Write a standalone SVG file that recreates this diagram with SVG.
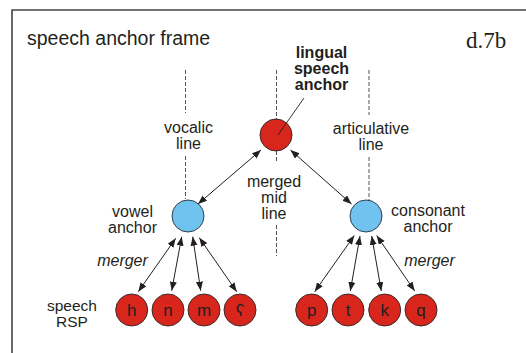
<svg xmlns="http://www.w3.org/2000/svg" width="526" height="353" viewBox="0 0 526 353">
<defs>
<style>
text{font-family:"Liberation Sans",Arial,sans-serif;fill:#231f20;}
.lbl{font-size:16px;text-anchor:middle;}
.it{font-style:italic;}
.bold{font-weight:bold;}
.red{fill:#d8261d;stroke:#3a2a2a;stroke-width:1;}
.blue{fill:#6fc3ee;stroke:#2f3f4f;stroke-width:1;}
.dash{stroke:#555;stroke-width:1;stroke-dasharray:4 2;fill:none;}
.arr{stroke:#231f20;stroke-width:1;fill:none;marker-start:url(#ah);marker-end:url(#ah);}
.let{font-size:17px;text-anchor:middle;}
</style>
<marker id="ah" markerUnits="userSpaceOnUse" markerWidth="10" markerHeight="8" refX="9" refY="3.5" orient="auto-start-reverse">
<path d="M0,0 L9,3.5 L0,7 Z" fill="#231f20"/>
</marker>
</defs>
<rect width="526" height="353" fill="#fff"/>
<g id="frame">
<path d="M12,353 V10 H526" fill="none" stroke="#444" stroke-width="1.6"/>
<text x="27" y="45" style="font-size:19.5px">speech anchor frame</text>
<text x="466" y="48" style="font-family:'Liberation Serif','Times New Roman',serif;font-size:23px">d.7b</text>
</g>
<g id="guides">
<line class="dash" x1="185.5" y1="70" x2="185.5" y2="113"/>
<line class="dash" x1="185.5" y1="156" x2="185.5" y2="199"/>
<line class="dash" x1="276.5" y1="70" x2="276.5" y2="119"/>
<line class="dash" x1="276.5" y1="151" x2="276.5" y2="162"/>
<line class="dash" x1="276.5" y1="225" x2="276.5" y2="256"/>
<line class="dash" x1="369" y1="70" x2="369" y2="115"/>
<line class="dash" x1="369" y1="157" x2="369" y2="201"/>
<text class="lbl" x="188.5" y="133">vocalic</text>
<text class="lbl" x="188.5" y="149">line</text>
<text class="lbl" x="371" y="134">articulative</text>
<text class="lbl" x="371" y="150">line</text>
<text class="lbl" x="274" y="187">merged</text>
<text class="lbl" x="274" y="203">mid</text>
<text class="lbl" x="274" y="219">line</text>
</g>
<g id="connectors">
<line class="arr" x1="198" y1="204" x2="261" y2="150"/>
<line class="arr" x1="351.5" y1="204" x2="290.5" y2="150"/>
<line class="arr" x1="138.3" y1="291.7" x2="175.7" y2="238.3"/>
<line class="arr" x1="171.7" y1="290.7" x2="181.7" y2="236.7"/>
<line class="arr" x1="200.7" y1="290.7" x2="192.7" y2="236.7"/>
<line class="arr" x1="236.7" y1="291.7" x2="199.3" y2="237.7"/>
<line class="arr" x1="314.7" y1="291.7" x2="354.3" y2="235.5"/>
<line class="arr" x1="350.3" y1="291" x2="360" y2="236"/>
<line class="arr" x1="381.3" y1="291" x2="371.7" y2="236"/>
<line class="arr" x1="414.7" y1="291" x2="376.7" y2="235.5"/>
<text class="lbl it" x="122.5" y="266">merger</text>
<text class="lbl it" x="429.5" y="266">merger</text>
</g>
<g id="lingual-anchor">
<circle class="red" cx="276" cy="135" r="16"/>
<line x1="304" y1="98" x2="278" y2="135" stroke="#231f20" stroke-width="0.9"/>
<text class="lbl bold" x="321.5" y="58">lingual</text>
<text class="lbl bold" x="321.5" y="74">speech</text>
<text class="lbl bold" x="321.5" y="90">anchor</text>
</g>
<g id="vowel-anchor">
<circle class="blue" cx="188" cy="216" r="16"/>
<text class="lbl" x="132.5" y="216.5">vowel</text>
<text class="lbl" x="132.5" y="232.5">anchor</text>
</g>
<g id="consonant-anchor">
<circle class="blue" cx="366" cy="216" r="16"/>
<text class="lbl" x="428" y="215.5">consonant</text>
<text class="lbl" x="428" y="231.5">anchor</text>
</g>
<g id="rsp-label">
<text class="lbl" x="72" y="310.5" style="font-size:15.5px">speech</text>
<text class="lbl" x="72" y="326.5" style="font-size:15.5px">RSP</text>
</g>
<g id="rsp-h"><circle class="red" cx="131.7" cy="310" r="16"/><text class="let" x="131.7" y="316">h</text></g>
<g id="rsp-n"><circle class="red" cx="168" cy="310" r="16"/><text class="let" x="168" y="316">n</text></g>
<g id="rsp-m"><circle class="red" cx="204" cy="310" r="16"/><text class="let" x="204" y="316">m</text></g>
<g id="rsp-ayin"><circle class="red" cx="240" cy="310" r="16"/><text class="let" x="240" y="316">ʕ</text></g>
<g id="rsp-p"><circle class="red" cx="311.7" cy="310" r="16"/><text class="let" x="311.7" y="316">p</text></g>
<g id="rsp-t"><circle class="red" cx="348" cy="310" r="16"/><text class="let" x="348" y="316">t</text></g>
<g id="rsp-k"><circle class="red" cx="384.7" cy="310" r="16"/><text class="let" x="384.7" y="316">k</text></g>
<g id="rsp-q"><circle class="red" cx="421" cy="310" r="16"/><text class="let" x="421" y="316">q</text></g>
</svg>
